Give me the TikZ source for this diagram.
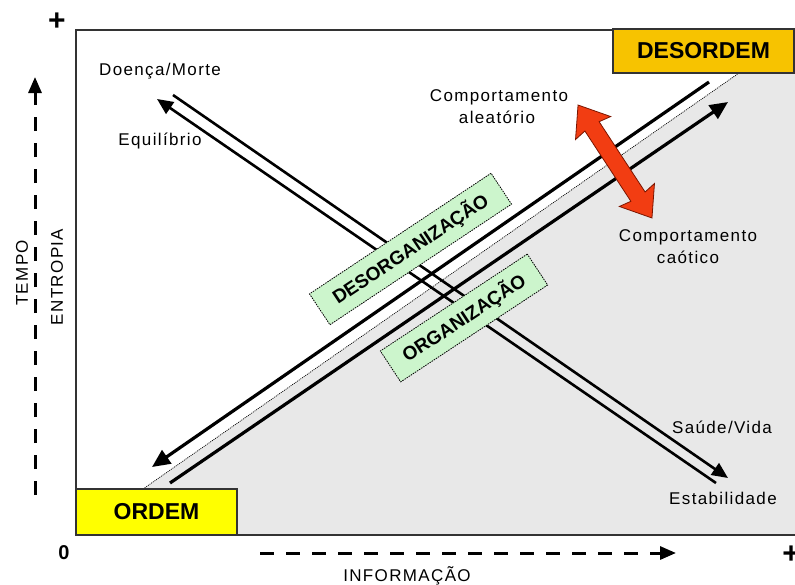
\documentclass[tikz,border=0pt]{standalone}
\usepackage{fontspec}
\setmainfont{Liberation Sans}
\newfontfamily\lblfont[LetterSpace=8]{Liberation Sans}
\usetikzlibrary{arrows.meta,calc}
\definecolor{grayzone}{HTML}{E8E8E8}
\definecolor{ordemyellow}{HTML}{FFFF00}
\definecolor{desordemgold}{HTML}{F7C300}
\definecolor{lblgreen}{HTML}{CCF5CC}
\definecolor{redarrow}{HTML}{F23D12}
\definecolor{rededge}{HTML}{7A1500}
\definecolor{framegray}{HTML}{333333}
\begin{document}
\begin{tikzpicture}[x=1pt,y=-1pt,
  lbl/.style={font=\lblfont\fontsize{17}{22}\selectfont, inner sep=0pt, anchor=base},
  axislbl/.style={font=\lblfont\fontsize{17}{22}\selectfont, inner sep=0pt},
  statebox/.style={draw=framegray, line width=1.2pt, font=\bfseries\fontsize{23}{26}\selectfont, inner sep=0pt},
  greenbox/.style={fill=lblgreen, draw=black, dash pattern=on 1.5pt off 1pt, line width=0.8pt,
    font=\bfseries\fontsize{19}{22}\selectfont, minimum height=37pt, inner sep=0pt},
  thickarrow/.style={line width=3.2pt, -{Triangle[length=18pt,width=16pt]}},
  thinarrow/.style={line width=2.6pt, -{Triangle[length=16pt,width=14pt]}},
  axisarrow/.style={line width=3pt, dash pattern=on 14pt off 12pt, -{Triangle[length=16pt,width=13pt]}},
  signlbl/.style={font=\bfseries\fontsize{20}{22}\selectfont, inner sep=0pt},
  pluslbl/.style={font=\bfseries\fontsize{30}{32}\selectfont, inner sep=0pt}
]
\useasboundingbox (0,0) rectangle (795,584);
\fill[white] (0,0) rectangle (795,584);

% gray zone below the diagonal
\coordinate (dA) at (143,489);
\coordinate (dB) at (739,73);
\fill[grayzone] (dA) -- (dB) -- (800,73) -- (800,535) -- (76,535) -- (76,489) -- cycle;
\draw[line width=0.7pt, dash pattern=on 1pt off 1pt] (dA) -- (dB);

% frame
\draw[framegray, line width=1.3pt] (76,30) rectangle (800,535);

% state boxes
\node[statebox, fill=ordemyellow, minimum width=161pt, minimum height=46pt] (ordem) at (156.5,512) {ORDEM};
\node[statebox, fill=desordemgold, minimum width=181pt, minimum height=44pt] (desordem) at (703.5,51) {DESORDEM};

% thick diagonal arrows
\coordinate (uS) at (709,82);
\coordinate (uE) at (152,467);
\draw[thickarrow] (uS) -- (uE);
\coordinate (lS) at (170,483);
\coordinate (lE) at (728,102);
\draw[thickarrow] (lS) -- (lE);

% crossing double arrows
\coordinate (aS) at (173,95);
\coordinate (aE) at (728,478);
\draw[thinarrow] (aS) -- (aE);
\coordinate (bS) at (716,483);
\coordinate (bE) at (157,99);
\draw[thinarrow] (bS) -- (bE);

% green labels
\node[greenbox, rotate=33.6, minimum width=218pt] (desorg) at (410.5,249) {DESORGANIZAÇÃO};
\node[greenbox, rotate=33.4, minimum width=176pt] (org) at (464,318) {ORGANIZAÇÃO};

% red double arrow
\begin{scope}[shift={(615,161.5)}, rotate=-56.8]
\fill[redarrow, draw=rededge, line width=0.8pt, line join=miter]
  (-67.5,0) -- (-40,21) -- (-42,8.5) -- (42,8.5) -- (40,21) -- (67.5,0)
  -- (40,-21) -- (42,-8.5) -- (-42,-8.5) -- (-40,-21) -- cycle;
\end{scope}

% texts
\node[lbl] (doenca) at (160,75) {Doença/Morte};
\node[lbl] (equil) at (160,145) {Equilíbrio};
\node[lbl] (comp1) at (499,101) {Comportamento};
\node[lbl] (aleat) at (497,123) {aleatório};
\node[lbl] (comp2) at (688,241) {Comportamento};
\node[lbl] (caot) at (688,263) {caótico};
\node[lbl] (saude) at (722,433) {Saúde/Vida};
\node[lbl] (estab) at (723,504) {Estabilidade};

% axes
\coordinate (vS) at (35,495);
\coordinate (vE) at (35,77);
\draw[axisarrow] (vS) -- (vE);
\coordinate (hS) at (260,553);
\coordinate (hE) at (676,553);
\draw[axisarrow] (hS) -- (hE);

\node[axislbl, rotate=90] (tempo) at (22,273) {TEMPO};
\node[axislbl, rotate=90] (entropia) at (57,277) {ENTROPIA};
\node[lbl] (info) at (407,581) {INFORMAÇÃO};

\node[pluslbl] (plusT) at (57,22) {+};
\node[signlbl] (zero) at (64,553) {0};
\node[pluslbl] (plusR) at (791,555) {+};
\end{tikzpicture}
\end{document}
